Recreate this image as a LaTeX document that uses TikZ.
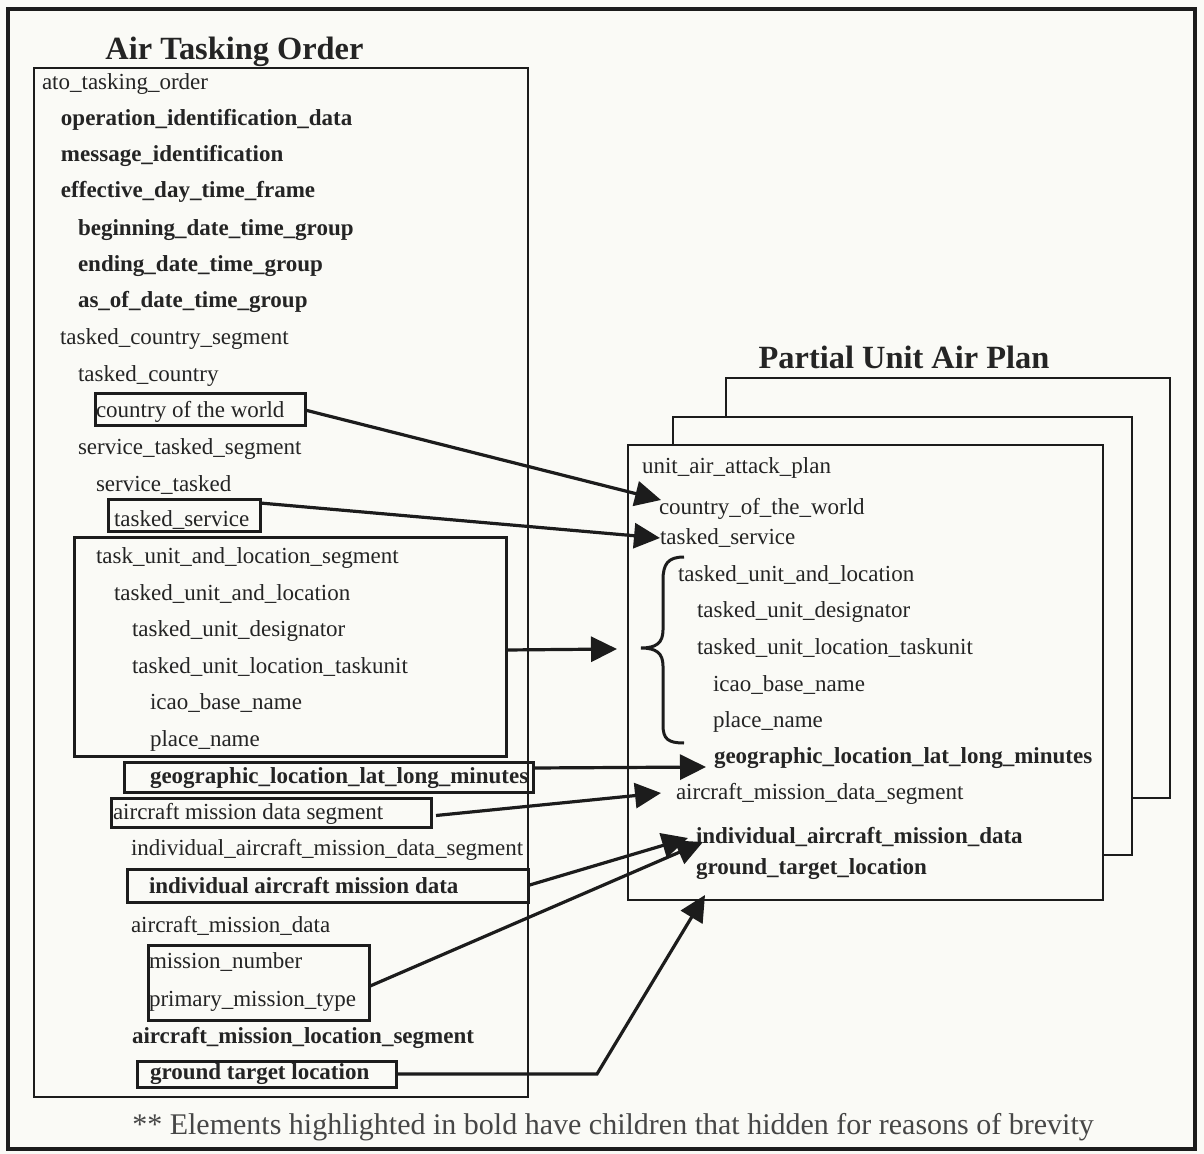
\documentclass[tikz,border=0pt]{standalone}
\usepackage{fontspec}
\setmainfont{Liberation Serif}
\usetikzlibrary{arrows.meta,calc}
\definecolor{paper}{RGB}{250,250,246}
\definecolor{ink}{RGB}{28,28,28}
\definecolor{txt}{RGB}{36,36,36}
\definecolor{notetxt}{RGB}{70,70,70}

\begin{document}
\begin{tikzpicture}[x=0.5pt,y=-0.5pt,
  item/.style={anchor=mid west, inner sep=0pt, outer sep=0pt, text=txt,
    yshift=-1pt, font=\fontsize{11.5}{13}\selectfont},
  bitem/.style={item, font=\fontsize{11.5}{13}\selectfont\bfseries},
  heading/.style={anchor=base, inner sep=0pt, text=txt,
    font=\fontsize{16.2}{19}\selectfont\bfseries},
  hilite/.style={draw=ink, line width=1.5pt, inner sep=0pt, outer sep=0pt},
  page/.style={draw=ink, line width=1pt, fill=paper},
  link/.style={draw=ink, line width=1.6pt,
    -{Triangle[length=13pt,width=12.5pt]}},
]
% canvas and outer frame
\useasboundingbox (0,0) rectangle (1204,1154);
\fill[paper] (0,0) rectangle (1204,1154);
\draw[ink, line width=1.6pt] (8,9) rectangle (1195,1149);

% ---------------- Air Tasking Order ----------------
\node[heading] (atotitle) at (234.5,60) {Air Tasking Order};
\node[draw=ink, line width=0.75pt, inner sep=0pt,
      minimum width=247pt, minimum height=514.5pt] (atobox) at (281,582.5) {};

\node[item]  (ato)    at (42,83)   {ato\_tasking\_order};
\node[bitem] (opid)   at (61,119)  {operation\_identification\_data};
\node[bitem] (msgid)  at (61,155)  {message\_identification};
\node[bitem] (eff)    at (61,191)  {effective\_day\_time\_frame};
\node[bitem] (begdtg) at (78,229)  {beginning\_date\_time\_group};
\node[bitem] (enddtg) at (78,265)  {ending\_date\_time\_group};
\node[bitem] (asof)   at (78,301)  {as\_of\_date\_time\_group};
\node[item]  (tcs)    at (60,338)  {tasked\_country\_segment};
\node[item]  (tc)     at (78,375)  {tasked\_country};
\node[item]  (cotw)   at (96,411)  {country of the world};
\node[item]  (sts)    at (78,448)  {service\_tasked\_segment};
\node[item]  (st)     at (96,485)  {service\_tasked};
\node[item]  (tsv)    at (114,520) {tasked\_service};
\node[item]  (tuls)   at (96,557)  {task\_unit\_and\_location\_segment};
\node[item]  (tual)   at (114,594) {tasked\_unit\_and\_location};
\node[item]  (tud)    at (132,630) {tasked\_unit\_designator};
\node[item]  (tult)   at (132,667) {tasked\_unit\_location\_taskunit};
\node[item]  (icao)   at (150,703) {icao\_base\_name};
\node[item]  (place)  at (150,740) {place\_name};
\node[bitem] (geo)    at (150,777) {geographic\_location\_lat\_long\_minutes};
\node[item]  (amds)   at (113,813) {aircraft mission data segment};
\node[item]  (iamds)  at (131,849) {individual\_aircraft\_mission\_data\_segment};
\node[bitem] (iamd)   at (149,887) {individual aircraft mission data};
\node[item]  (amd)    at (131,926) {aircraft\_mission\_data};
\node[item]  (mnum)   at (149,962) {mission\_number};
\node[item]  (pmt)    at (149,1000){primary\_mission\_type};
\node[bitem] (amls)   at (132,1037){aircraft\_mission\_location\_segment};
\node[bitem] (gtl)    at (150,1073){ground target location};

% highlighted groups
\node[hilite, minimum width=105pt,   minimum height=16pt]   (cwbox)   at (200,410)     {};
\node[hilite, minimum width=76pt,    minimum height=16pt]   (tsbox)   at (184,516)     {};
\node[hilite, minimum width=216pt,   minimum height=109pt]  (tulbox)  at (290,647)     {};
\node[hilite, minimum width=204.5pt, minimum height=15pt]   (geobox)  at (328.5,777)   {};
\node[hilite, minimum width=160pt,   minimum height=14.5pt] (amdsbox) at (271,812.5)   {};
\node[hilite, minimum width=200.5pt, minimum height=16.5pt] (iamdbox) at (327.5,885.5) {};
\node[hilite, minimum width=110.5pt, minimum height=37.5pt] (mnbox)   at (258.5,982.5) {};
\node[hilite, minimum width=129.5pt, minimum height=13pt]   (gtlbox)  at (266.5,1074)  {};

% ---------------- Partial Unit Air Plan ----------------
\node[heading] (puaptitle) at (904,369) {Partial Unit Air Plan};
\draw[page] (726,378) rectangle (1170,798);
\draw[page] (673,417) rectangle (1132,855);
\draw[page] (628,445) rectangle (1103,900);

\node[item]  (uaap)   at (642,467) {unit\_air\_attack\_plan};
\node[item]  (rcotw)  at (659,508) {country\_of\_the\_world};
\node[item]  (rts)    at (660,538) {tasked\_service};
\node[item]  (rtual)  at (678,575) {tasked\_unit\_and\_location};
\node[item]  (rtud)   at (697,611) {tasked\_unit\_designator};
\node[item]  (rtult)  at (697,648) {tasked\_unit\_location\_taskunit};
\node[item]  (ricao)  at (713,685) {icao\_base\_name};
\node[item]  (rplace) at (713,721) {place\_name};
\node[bitem] (rgeo)   at (714,757) {geographic\_location\_lat\_long\_minutes};
\node[item]  (ramds)  at (676,793) {aircraft\_mission\_data\_segment};
\node[bitem] (riamd)  at (696,837) {individual\_aircraft\_mission\_data};
\node[bitem] (rgtl)   at (696,868) {ground\_target\_location};

% brace grouping the unit and location block
\draw[ink, line width=1.5pt]
  (684,557) .. controls (668,557) and (663,564) .. (663,580)
  -- (663,630) .. controls (663,643) and (656,648) .. (641,648)
  .. controls (656,648) and (663,653) .. (663,666)
  -- (663,725) .. controls (663,739) and (668,743) .. (684,743);

% arrow targets
\coordinate (tipC)  at (661,500);
\coordinate (tipS)  at (660,538);
\coordinate (tipU)  at (617,649);
\coordinate (tipG)  at (706,767);
\coordinate (tipA)  at (661,793);
\coordinate (tipI1) at (688,838);
\coordinate (tipI2) at (703,842);
\coordinate (tipT)  at (705,895);
\coordinate (bend)  at (597,1074);

% mappings
\draw[link] (cwbox.east) -- (tipC);
\draw[link] ([yshift=-1.5pt]tsbox.north east) -- (tipS);
\draw[link] ([yshift=-1.5pt]tulbox.east) -- (tipU);
\draw[link] ([yshift=4.5pt]geobox.east) -- (tipG);
\draw[link] ([xshift=2.5pt,yshift=-1.5pt]amdsbox.east) -- (tipA);
\draw[link] (iamdbox.east) -- (tipI1);
\draw[link] ([yshift=-2pt]mnbox.east) -- (tipI2);
\draw[link] (gtlbox.east) -- (bend) -- (tipT);

% note
\node[anchor=base, inner sep=0pt, text=notetxt, font=\fontsize{15}{18}\selectfont]
  (note) at (613,1134) {** Elements highlighted in bold have children that hidden for reasons of brevity};
\end{tikzpicture}
\end{document}
